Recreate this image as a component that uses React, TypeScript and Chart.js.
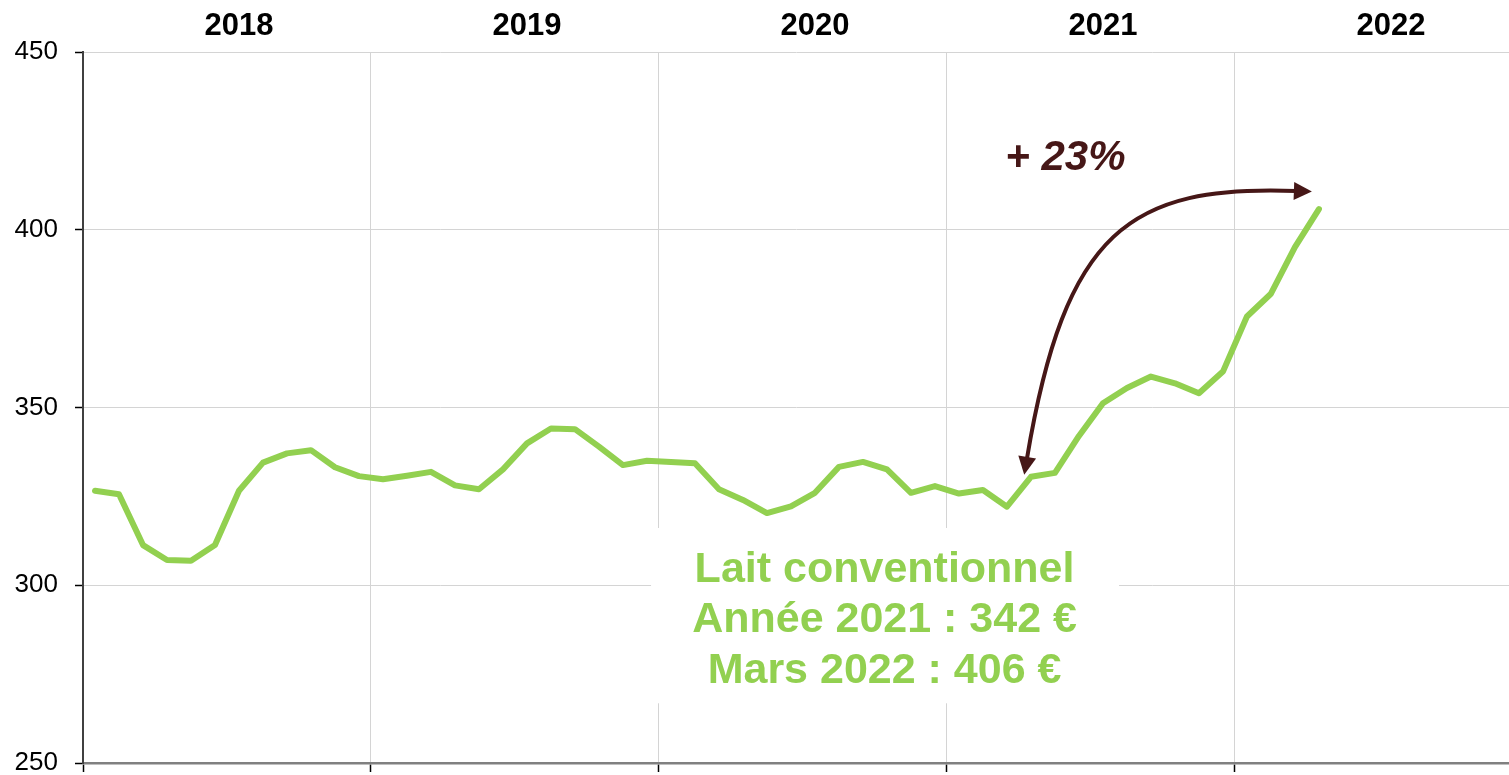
import React, { useEffect, useRef } from 'react';
import { Chart, registerables } from 'chart.js';

Chart.register(...registerables);

// ---- Data ----
const months: string[] = [
  'janv. 2018', 'févr. 2018', 'mars 2018', 'avr. 2018', 'mai 2018', 'juin 2018',
  'juil. 2018', 'août 2018', 'sept. 2018', 'oct. 2018', 'nov. 2018', 'déc. 2018',
  'janv. 2019', 'févr. 2019', 'mars 2019', 'avr. 2019', 'mai 2019', 'juin 2019',
  'juil. 2019', 'août 2019', 'sept. 2019', 'oct. 2019', 'nov. 2019', 'déc. 2019',
  'janv. 2020', 'févr. 2020', 'mars 2020', 'avr. 2020', 'mai 2020', 'juin 2020',
  'juil. 2020', 'août 2020', 'sept. 2020', 'oct. 2020', 'nov. 2020', 'déc. 2020',
  'janv. 2021', 'févr. 2021', 'mars 2021', 'avr. 2021', 'mai 2021', 'juin 2021',
  'juil. 2021', 'août 2021', 'sept. 2021', 'oct. 2021', 'nov. 2021', 'déc. 2021',
  'janv. 2022', 'févr. 2022', 'mars 2022', 'avr. 2022',
];

const prices: number[] = [
  326.6, 325.6, 311.3, 307.1, 306.9, 311.3, 326.6, 334.5, 337.1, 338.0, 333.2, 330.7,
  329.8, 330.8, 331.9, 328.1, 327.0, 332.6, 339.9, 344.1, 343.9, 339.0, 333.8, 335.0,
  334.7, 334.3, 327.0, 324.0, 320.3, 322.2, 326.0, 333.3, 334.7, 332.6, 326.0, 327.9,
  325.8, 326.8, 322.1, 330.5, 331.6, 342.0, 351.2, 355.5, 358.7, 356.8, 354.0, 360.1,
  375.6, 382.0, 395.1, 405.8,
];

const yearLabels: string[] = ['2018', '2019', '2020', '2021', '2022'];
const yearLabelPositions: number[] = [6, 18, 30, 42, 54];
const yearBoundaries: number[] = [-0.5, 11.5, 23.5, 35.5, 47.5];
const yTicks: number[] = [250, 300, 350, 400, 450];

const noteLines: string[] = ['Lait conventionnel', 'Année 2021 : 342 €', 'Mars 2022 : 406 €'];
const changeLabel = '+ 23%';

const GREEN = '#92D050';
const BROWN = '#461717';
const FONT = '"Liberation Sans", Arial, Helvetica, sans-serif';

const notesPlugin = {
  id: 'notes',
  beforeDatasetsDraw(chart: any) {
    const { ctx, scales } = chart;
    const x = scales.x;
    const y = scales.y;
    ctx.save();
    const left = x.getPixelForValue(23.17);
    const right = x.getPixelForValue(42.67);
    const top = y.getPixelForValue(316.1);
    const bottom = y.getPixelForValue(266.8);
    ctx.fillStyle = '#ffffff';
    ctx.fillRect(left, top, right - left, bottom - top);
    ctx.fillStyle = GREEN;
    ctx.font = `bold 43px ${FONT}`;
    ctx.textAlign = 'center';
    ctx.textBaseline = 'alphabetic';
    const cx = x.getPixelForValue(32.9);
    const baselines = [301.0, 286.9, 272.4];
    noteLines.forEach((t, i) => ctx.fillText(t, cx, y.getPixelForValue(baselines[i])));
    ctx.restore();
  },
  afterDatasetsDraw(chart: any) {
    const { ctx, scales } = chart;
    const x = scales.x;
    const y = scales.y;
    ctx.save();
    // curved double arrow
    const b0 = { x: x.getPixelForValue(38.83), y: y.getPixelForValue(335.5) };
    const p1 = { x: x.getPixelForValue(40.42), y: y.getPixelForValue(399.9) };
    const p2 = { x: x.getPixelForValue(43.125), y: y.getPixelForValue(412.6) };
    const b3 = { x: x.getPixelForValue(50.04), y: y.getPixelForValue(410.9) };
    ctx.strokeStyle = BROWN;
    ctx.lineWidth = 4;
    ctx.lineCap = 'butt';
    ctx.beginPath();
    ctx.moveTo(b0.x, b0.y);
    ctx.bezierCurveTo(p1.x, p1.y, p2.x, p2.y, b3.x, b3.y);
    ctx.stroke();
    const head = (base: any, from: any) => {
      const dx = base.x - from.x;
      const dy = base.y - from.y;
      const len = Math.hypot(dx, dy);
      const ux = dx / len;
      const uy = dy / len;
      const L = 18;
      const W = 9;
      const tip = { x: base.x + ux * (L - 2), y: base.y + uy * (L - 2) };
      const bx = tip.x - ux * L;
      const by = tip.y - uy * L;
      ctx.fillStyle = BROWN;
      ctx.beginPath();
      ctx.moveTo(tip.x, tip.y);
      ctx.lineTo(bx - uy * W, by + ux * W);
      ctx.lineTo(bx + uy * W, by - ux * W);
      ctx.closePath();
      ctx.fill();
    };
    head(b0, p1);
    head(b3, p2);
    // label
    ctx.fillStyle = BROWN;
    ctx.font = `italic bold 42px ${FONT}`;
    ctx.textAlign = 'left';
    ctx.textBaseline = 'alphabetic';
    ctx.fillText(changeLabel, x.getPixelForValue(37.93), y.getPixelForValue(416.7));
    ctx.restore();
  },
};

export default function App() {
  const canvasRef = useRef<HTMLCanvasElement | null>(null);

  useEffect(() => {
    if (!canvasRef.current) return;
    const chart = new Chart(canvasRef.current, {
      type: 'line',
      data: {
        labels: months,
        datasets: [
          {
            label: 'Lait conventionnel',
            data: prices.map((v, i) => ({ x: i, y: v })),
            borderColor: GREEN,
            backgroundColor: GREEN,
            borderWidth: 6,
            pointRadius: 0,
            pointHoverRadius: 0,
            tension: 0,
            borderJoinStyle: 'round',
            borderCapStyle: 'round',
            xAxisID: 'x',
            yAxisID: 'y',
          } as any,
        ],
      },
      options: {
        animation: false,
        responsive: true,
        maintainAspectRatio: false,
        layout: { padding: 0 },
        plugins: {
          legend: { display: false },
          title: { display: false },
          tooltip: { enabled: false },
        },
        scales: {
          x: {
            type: 'linear',
            position: 'bottom',
            min: -0.5,
            max: 58.92,
            afterBuildTicks: (axis: any) => {
              axis.ticks = yearBoundaries.map((v) => ({ value: v }));
            },
            afterFit: (axis: any) => {
              axis.height = 12;
              axis.paddingLeft = 0;
              axis.paddingRight = 0;
            },
            ticks: { display: false },
            grid: {
              display: true,
              color: '#D4D4D4',
              lineWidth: 1,
              drawTicks: true,
              tickLength: 9,
              tickColor: '#000000',
              tickWidth: 1.5,
            },
            border: { display: true, color: '#808080', width: 2.5 },
          },
          xTop: {
            type: 'linear',
            position: 'top',
            min: -0.5,
            max: 58.92,
            afterBuildTicks: (axis: any) => {
              axis.ticks = yearLabelPositions.map((v) => ({ value: v }));
            },
            afterFit: (axis: any) => {
              axis.height = 52;
              axis.paddingLeft = 0;
              axis.paddingRight = 0;
            },
            ticks: {
              autoSkip: false,
              maxRotation: 0,
              padding: 7,
              color: '#000000',
              font: { family: FONT, size: 31, weight: 'bold' },
              callback: (value: any) => yearLabels[yearLabelPositions.indexOf(Number(value))] ?? '',
            },
            grid: { display: false, drawTicks: false },
            border: { display: false },
          },
          y: {
            type: 'linear',
            position: 'left',
            min: 250,
            max: 450,
            afterBuildTicks: (axis: any) => {
              axis.ticks = yTicks.map((v) => ({ value: v }));
            },
            afterFit: (axis: any) => {
              axis.width = 83;
              axis.paddingTop = 0;
              axis.paddingBottom = 0;
            },
            ticks: {
              padding: 17,
              color: '#000000',
              font: { family: FONT, size: 26 },
            },
            grid: {
              color: '#D4D4D4',
              lineWidth: 1,
              drawTicks: true,
              tickLength: 8,
              tickColor: '#000000',
              tickWidth: 1.5,
            },
            border: { display: true, color: '#404040', width: 2 },
          },
        },
      } as any,
      plugins: [notesPlugin],
    });
    return () => chart.destroy();
  }, []);

  return (
    <div style={{ position: 'absolute', left: 0, top: 0, width: '1509px', height: '775px', background: '#fff' }}>
      <canvas ref={canvasRef} />
    </div>
  );
}
